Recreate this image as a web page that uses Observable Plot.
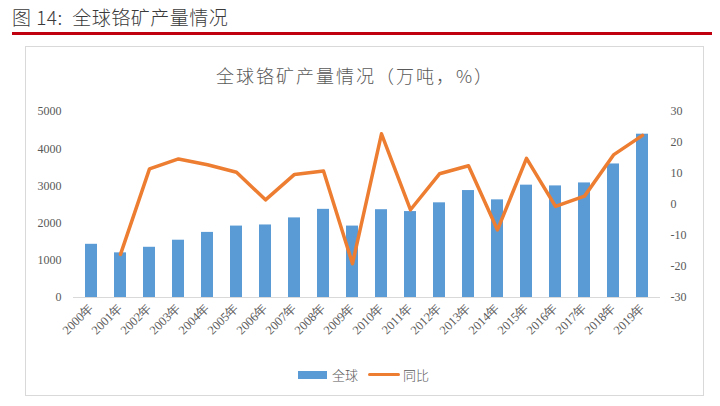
<!DOCTYPE html>
<html><head><meta charset="utf-8">
<script src="https://cdn.jsdelivr.net/npm/d3@7"></script>
<script src="https://cdn.jsdelivr.net/npm/@observablehq/plot@0.6"></script>
<style>
html,body{margin:0;padding:0;background:#fff;width:720px;height:406px;overflow:hidden;position:relative;font-family:"Noto Sans CJK SC",sans-serif;}
#head{position:absolute;left:12px;top:3px;font-size:19px;color:#3a3a3a;font-weight:300;letter-spacing:0.5px;}
#red{position:absolute;left:12px;top:32px;width:700px;height:3px;background:#c0000f;}
#box{position:absolute;left:25px;top:46px;width:679px;height:350px;border:1px solid #d9d9d9;box-sizing:border-box;}
#title{position:absolute;left:0;width:710px;top:62px;text-align:center;font-size:18px;color:#595959;font-weight:300;letter-spacing:2px;}
#chart{position:absolute;left:0;top:0;}
#legend{position:absolute;top:365px;left:298px;font-size:13px;color:#595959;font-weight:300;display:flex;align-items:center;}
.sw{display:inline-block;}
</style></head>
<body>
<div id="head">图 14:&nbsp;&nbsp;全球铬矿产量情况</div>
<div id="red"></div>
<div id="box"></div>
<div id="chart"></div>
<div id="title">全球铬矿产量情况（万吨，%）</div>
<div id="legend">
  <span class="sw" style="width:29px;height:8px;background:#5b9bd5;margin-right:5px"></span><span>全球</span>
  <span class="sw" style="width:32px;height:3px;background:#ed7d31;margin-left:10px;margin-right:3px;border-radius:2px"></span><span>同比</span>
</div>
<script>
const years = ["2000年","2001年","2002年","2003年","2004年","2005年","2006年","2007年","2008年","2009年","2010年","2011年","2012年","2013年","2014年","2015年","2016年","2017年","2018年","2019年"];
const production = [1430,1200,1350,1540,1750,1920,1950,2140,2370,1920,2360,2310,2545,2875,2625,3020,3000,3080,3590,4390];
const yoy = [null,-16.1,11.5,14.7,12.8,10.4,1.5,9.7,10.8,-19.1,22.8,-1.7,9.9,12.5,-8.2,14.9,-0.6,2.7,16.0,22.3];
const leftTicks = [0,1000,2000,3000,4000,5000];
const rightTicks = [-30,-20,-10,0,10,20,30];

const toLeft = v => (v + 30) / 60 * 5000;
const barData = years.map((y,i)=>({year:y, value:production[i]}));
const lineData = years.map((y,i)=>({year:y, yoy:yoy[i]})).filter(d=>d.yoy!==null);

const serif = "'Liberation Serif','Times New Roman',serif";
const chart = Plot.plot({
  width:720, height:406,
  marginLeft:73, marginRight:60, marginTop:111, marginBottom:109,
  style:{fontFamily:serif, fontSize:"12px", color:"#595959", background:"transparent"},
  x:{type:"band", domain:years, paddingInner:0.58, paddingOuter:0.29, label:null},
  y:{domain:[0,5000], label:null},
  marks:[
    Plot.ruleY([0],{stroke:"#d9d9d9", strokeWidth:1}),
    Plot.barY(barData,{x:"year", y:"value", fill:"#5b9bd5"}),
    Plot.lineY(lineData,{x:"year", y:d=>toLeft(d.yoy), stroke:"#ed7d31", strokeWidth:3.5, strokeLinejoin:"round", strokeLinecap:"round"}),
    Plot.axisY(leftTicks,{anchor:"left", tickSize:0, tickPadding:12, fontSize:12, fill:"#595959", label:null, tickFormat:d=>String(d)}),
    Plot.axisY(rightTicks.map(toLeft),{anchor:"right", tickSize:0, tickPadding:10, fontSize:12, fill:"#595959", label:null, tickFormat:d=>String(Math.round(d*60/5000-30)), textAnchor:"start"}),
    Plot.axisX({tickSize:0, tickRotate:-45, tickPadding:8, fontSize:12.5, fill:"#595959", label:null, fontFamily:serif})
  ]
});
document.getElementById("chart").appendChild(chart);
</script>
</body></html>
